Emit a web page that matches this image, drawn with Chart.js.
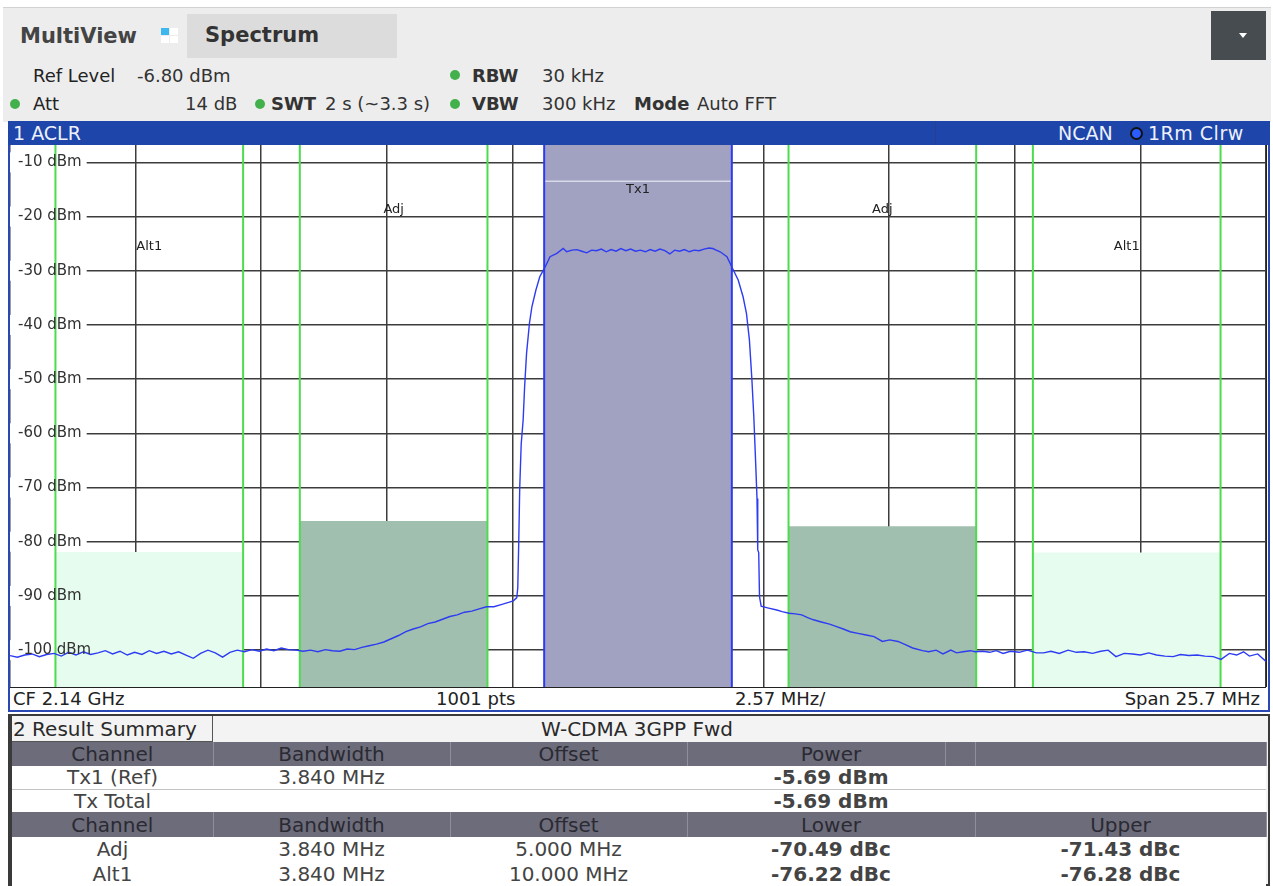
<!DOCTYPE html>
<html>
<head>
<meta charset="utf-8">
<title>ACLR</title>
<script src="https://cdn.jsdelivr.net/npm/chart.js@4.4.1/dist/chart.umd.min.js"></script>
<style>
  body { margin: 0; width: 1273px; height: 886px; overflow: hidden; position: relative; background: #fff;
         font-family: "DejaVu Sans", sans-serif; color: #333; }
  .abs { position: absolute; white-space: nowrap; }
  .t18 { font-size: 18px; line-height: 22px; }
  .b { font-weight: bold; }
  .dot { position: absolute; width: 10px; height: 10px; border-radius: 50%; background: #43b14b; }
  #top { left: 3px; top: 7px; width: 1268px; height: 114px; background: #ededed; border-top: 1px solid #d2d2d2; }
  #tab { left: 187px; top: 14px; width: 210px; height: 44px; background: #dcdcdc; }
  #btn { left: 1211px; top: 11px; width: 55px; height: 49px; background: #474c50; }
  #panel1 { left: 8px; top: 121px; width: 1262px; height: 591px; box-sizing: border-box; border: 2px solid #2a48b4; background: #fff; }
  #bar { left: 8px; top: 121px; width: 1262px; height: 24px; background: #1d45aa; color: #eef1fa; font-size: 19px; line-height: 24px; }
  #plot { position: absolute; left: 10px; top: 145px; }
  #panel2 { left: 8px; top: 714px; width: 1262px; height: 172px; box-sizing: border-box; border: 2px solid #3a3a3a; border-left-width: 4px; background: #f3f3f3; }
  table { position: absolute; left: 12px; top: 742px; width: 1254px; border-collapse: collapse; table-layout: fixed; font-size: 20px; }
  td { padding: 0; text-align: center; line-height: 20px; overflow: hidden; white-space: nowrap; }
  tr.hd td { background: #6d6c7a; color: #2a2a33; border-right: 1px solid #8f8f9c; }
  tr.rw td { background: #fff; color: #444; }
  td.v { font-weight: bold; color: #111; }
</style>
</head>
<body>
<div id="top" class="abs"></div>
<div class="abs b" style="left:20px;top:24px;font-size:21px;line-height:24px;color:#444;">MultiView</div>
<div class="abs" style="left:161px;top:28px;width:8px;height:7px;background:#3cb8ee;"></div>
<div class="abs" style="left:170px;top:28px;width:8px;height:7px;background:#fff;"></div>
<div class="abs" style="left:161px;top:36px;width:8px;height:7px;background:#fff;"></div>
<div class="abs" style="left:170px;top:36px;width:8px;height:7px;background:#fff;"></div>
<div id="tab" class="abs"></div>
<div class="abs b" style="left:205px;top:23px;font-size:21px;line-height:24px;color:#333;">Spectrum</div>
<div id="btn" class="abs"></div>
<div class="abs" style="left:1239px;top:33px;width:0;height:0;border-left:4px solid transparent;border-right:4px solid transparent;border-top:5px solid #fff;"></div>

<div class="abs t18" style="left:33px;top:65px;color:#222;">Ref Level</div>
<div class="abs t18" style="left:137px;top:65px;">-6.80 dBm</div>
<div class="dot" style="left:450px;top:70px;"></div>
<div class="abs t18 b" style="left:472px;top:65px;">RBW</div>
<div class="abs t18" style="left:542px;top:65px;">30 kHz</div>

<div class="dot" style="left:10px;top:99px;"></div>
<div class="abs t18" style="left:33px;top:93px;color:#222;">Att</div>
<div class="abs t18" style="left:185px;top:93px;">14 dB</div>
<div class="dot" style="left:255px;top:99px;"></div>
<div class="abs t18 b" style="left:271px;top:93px;">SWT</div>
<div class="abs t18" style="left:325px;top:93px;">2 s (~3.3 s)</div>
<div class="dot" style="left:450px;top:99px;"></div>
<div class="abs t18 b" style="left:472px;top:93px;">VBW</div>
<div class="abs t18" style="left:542px;top:93px;">300 kHz</div>
<div class="abs t18 b" style="left:634px;top:93px;">Mode</div>
<div class="abs t18" style="left:697px;top:93px;">Auto FFT</div>

<div id="panel1" class="abs"></div>
<div id="bar" class="abs"></div>
<div class="abs" style="left:935px;top:121px;width:1px;height:24px;background:#2a3f8c;"></div>
<div class="abs" style="left:13px;top:121px;font-size:19px;line-height:24px;color:#eef1fa;">1 ACLR</div>
<div class="abs" style="left:1058px;top:121px;font-size:19px;line-height:24px;color:#eef1fa;">NCAN</div>
<div class="abs" style="left:1130px;top:127px;width:9px;height:9px;border-radius:50%;background:#2a5cff;border:2px solid #111;"></div>
<div class="abs" style="left:1148px;top:121px;font-size:19px;line-height:24px;color:#eef1fa;letter-spacing:0.5px;">1Rm Clrw</div>

<canvas id="plot" width="1256" height="542"></canvas>
<div class="abs" style="left:10px;top:687px;width:1256px;height:1px;background:#222;"></div>
<div class="abs" style="left:1266px;top:145px;width:1px;height:542px;background:#222;"></div>
<div class="abs t18" style="left:13px;top:688px;color:#222;">CF 2.14 GHz</div>
<div class="abs t18" style="left:436px;top:688px;color:#222;">1001 pts</div>
<div class="abs t18" style="left:735px;top:688px;color:#222;">2.57 MHz/</div>
<div class="abs t18" style="right:13px;top:688px;color:#222;">Span 25.7 MHz</div>

<div id="panel2" class="abs"></div>
<div class="abs" style="left:12px;top:716px;width:200px;height:25px;border-right:1px solid #555;border-bottom:1px solid #555;"></div>
<div class="abs" style="left:13px;top:717px;font-size:20px;line-height:24px;color:#2a2a2a;">2 Result Summary</div>
<div class="abs" style="left:637px;top:717px;font-size:20px;line-height:24px;color:#2a2a2a;transform:translateX(-50%);">W-CDMA 3GPP Fwd</div>
<table>
  <colgroup><col style="width:201px"><col style="width:237px"><col style="width:237px"><col style="width:288px"><col style="width:291px"></colgroup>
  <tr class="hd" style="height:24px"><td>Channel</td><td>Bandwidth</td><td>Offset</td><td>Power</td><td></td></tr>
  <tr class="rw" style="height:23px"><td style="border-bottom:1px solid #c4c4c4">Tx1 (Ref)</td><td style="border-bottom:1px solid #c4c4c4">3.840 MHz</td><td style="border-bottom:1px solid #c4c4c4"></td><td class="v" style="border-bottom:1px solid #c4c4c4">-5.69 dBm</td><td style="border-bottom:1px solid #c4c4c4"></td></tr>
  <tr class="rw" style="height:23px"><td>Tx Total</td><td></td><td></td><td class="v">-5.69 dBm</td><td></td></tr>
  <tr class="hd" style="height:25px"><td>Channel</td><td>Bandwidth</td><td>Offset</td><td>Lower</td><td>Upper</td></tr>
  <tr class="rw" style="height:24px"><td>Adj</td><td>3.840 MHz</td><td>5.000 MHz</td><td class="v">-70.49 dBc</td><td class="v">-71.43 dBc</td></tr>
  <tr class="rw" style="height:25px"><td>Alt1</td><td>3.840 MHz</td><td>10.000 MHz</td><td class="v">-76.22 dBc</td><td class="v">-76.28 dBc</td></tr>
</table>
<div class="abs" style="left:945px;top:742px;width:1px;height:24px;background:#8f8f9c;"></div>

<script>
// ACLR trace, W-CDMA 3GPP Fwd, CF 2.14 GHz, span 25.7 MHz

const xMin = -12.85;
const xMax = 12.85;
const xTicks = [-12.85, -10.28, -7.71, -5.14, -2.57, 0, 2.57, 5.14, 7.71, 10.28, 12.85];
const refLevel = -6.8;
const bottomLevel = -106.8;
const yTicks = [-10, -20, -30, -40, -50, -60, -70, -80, -90, -100];

const channelNames = ["Alt1", "Adj", "Tx1", "Adj", "Alt1"];
const channelOffsets = [-10, -5, 0, 5, 10];
const channelBandwidth = 3.84;
const channelPower = [-81.91, -76.18, -5.69, -77.12, -81.97];
const channelLabelLevel = [-25.6, -18.8, -15.1, -18.8, -25.6];
const txLineLevel = -13.5;

const traceFreq = [
  -12.85, -12.70, -12.55, -12.40, -12.25, -12.10, -11.95, -11.80, -11.65, -11.50,
  -11.35, -11.20, -11.05, -10.90, -10.75, -10.60, -10.45, -10.30, -10.15, -10.00,
  -9.85, -9.70, -9.55, -9.40, -9.25, -9.10, -8.95, -8.80, -8.65, -8.50,
  -8.35, -8.20, -8.05, -7.90, -7.75, -7.60, -7.45, -7.30, -7.15, -7.00,
  -6.85, -6.70, -6.55, -6.40, -6.25, -6.10, -5.95, -5.80, -5.65, -5.50,
  -5.35, -5.20, -5.05, -4.90, -4.75, -4.60, -4.45, -4.30, -4.15, -4.00,
  -3.85, -3.70, -3.55, -3.40, -3.25, -3.10, -2.95, -2.80, -2.65, -2.55,
  -2.48, -2.46, -2.44, -2.42, -2.39, -2.35, -2.32, -2.28, -2.22, -2.17,
  -2.09, -2.01, -1.90, -1.80, -1.66, -1.53, -1.46, -1.35, -1.25, -1.15,
  -1.05, -0.95, -0.85, -0.75, -0.65, -0.55, -0.45, -0.35, -0.25, -0.15,
  -0.05, 0.05, 0.15, 0.25, 0.35, 0.45, 0.55, 0.65, 0.75, 0.85,
  0.95, 1.05, 1.15, 1.25, 1.35, 1.45, 1.53, 1.60, 1.68, 1.82,
  1.93, 2.05, 2.15, 2.22, 2.28, 2.33, 2.37, 2.41, 2.435, 2.45,
  2.47, 2.486, 2.52, 2.65, 2.84, 2.95, 3.09, 3.22, 3.35, 3.47,
  3.59, 3.75, 3.92, 4.05, 4.20, 4.34, 4.50, 4.67, 4.83, 5.00,
  5.15, 5.32, 5.47, 5.62, 5.82, 5.95, 6.10, 6.24, 6.40, 6.52,
  6.65, 6.80, 6.90, 7.05, 7.20, 7.33, 7.47, 7.62, 7.80, 7.97,
  8.15, 8.30, 8.45, 8.62, 8.80, 8.97, 9.13, 9.30, 9.47, 9.62,
  9.78, 9.95, 10.12, 10.28, 10.45, 10.61, 10.78, 10.95, 11.10, 11.27,
  11.44, 11.60, 11.77, 11.93, 12.10, 12.25, 12.39, 12.51, 12.68, 12.85
];
const traceLevel = [
  -101.0, -101.3, -100.9, -100.7, -101.2, -100.8, -100.6, -101.1, -100.4, -100.9,
  -100.3, -100.8, -100.5, -100.1, -100.7, -100.2, -100.9, -100.4, -100.8, -100.1,
  -100.6, -100.2, -100.7, -100.3, -100.9, -101.5, -100.6, -100.0, -100.5, -101.3,
  -100.4, -100.0, -100.3, -99.9, -100.2, -99.8, -100.1, -99.6, -99.9, -100.0,
  -100.2, -100.0, -100.3, -99.9, -100.1, -100.2, -99.8, -99.9, -99.5, -99.2,
  -98.9, -98.5, -97.9, -97.3, -96.6, -96.1, -95.7, -95.1, -94.8, -94.3,
  -93.8, -93.5, -93.0, -92.8, -92.4, -92.0, -92.0, -91.6, -91.2, -90.9,
  -90.3, -88.5, -80.0, -70.0, -62.0, -57.5, -51.4, -45.2, -39.6, -36.6,
  -33.6, -31.1, -29.3, -27.4, -26.8, -25.9, -26.5, -26.2, -26.1, -26.4,
  -26.7, -26.2, -26.3, -26.0, -26.5, -26.1, -26.4, -25.9, -26.3, -26.0,
  -26.4, -26.2, -26.5, -26.1, -26.4, -26.0, -26.3, -26.9, -26.2, -26.4,
  -26.1, -26.5, -26.2, -26.3, -26.0, -25.8, -25.9, -26.2, -26.5, -27.4,
  -29.5, -31.7, -34.8, -37.9, -42.8, -50.0, -57.0, -66.0, -72.0, -81.5,
  -82.0, -90.1, -91.9, -92.2, -92.6, -92.9, -93.2, -93.3, -93.5, -94.0,
  -94.4, -94.8, -95.2, -95.6, -96.1, -96.6, -96.9, -97.2, -97.5, -98.4,
  -98.1, -98.4, -99.0, -99.6, -100.1, -100.3, -100.0, -100.7, -100.0, -100.5,
  -100.3, -100.1, -100.3, -100.2, -100.4, -100.1, -100.6, -100.2, -100.4, -100.0,
  -100.5, -100.5, -100.2, -100.6, -100.0, -100.4, -100.3, -100.6, -100.2, -100.0,
  -101.2, -100.6, -100.7, -100.9, -100.5, -100.9, -101.1, -101.2, -100.8, -101.0,
  -100.9, -101.1, -101.2, -101.7, -100.6, -100.9, -100.3, -101.1, -100.7, -102.1
];

const fillByName = { Tx1: "#a1a1c1", Adj: "#a1bfae", Alt1: "#e6fcef" };
const edgeByName = { Tx1: "#2b3cf0", Adj: "#4cdc4c", Alt1: "#4cdc4c" };
const gridColor = "#3c3c3c";
const labelFont = { family: "DejaVu Sans", size: 15 };

const datasets = [];
channelNames.forEach((name, i) => {
  const lo = channelOffsets[i] - channelBandwidth / 2;
  const hi = channelOffsets[i] + channelBandwidth / 2;
  const top = Math.min(channelPower[i], refLevel);
  datasets.push({
    data: [{ x: lo, y: top }, { x: hi, y: top }],
    fill: "start",
    backgroundColor: fillByName[name],
    borderWidth: 0,
    pointRadius: 0,
    order: 5,
  });
  datasets.push({
    data: [
      { x: lo, y: bottomLevel }, { x: lo, y: refLevel }, { x: lo, y: null },
      { x: hi, y: refLevel }, { x: hi, y: bottomLevel },
    ],
    borderColor: edgeByName[name],
    borderWidth: 2,
    pointRadius: 0,
    fill: false,
    spanGaps: false,
    order: 3,
  });
  if (name === "Tx1") {
    datasets.push({
      data: [{ x: lo, y: txLineLevel }, { x: hi, y: txLineLevel }],
      borderColor: "rgba(236,236,246,0.75)",
      borderWidth: 1.5,
      pointRadius: 0,
      fill: false,
      order: 4,
    });
  }
});
datasets.push({
  data: traceFreq.map((f, i) => ({ x: f, y: traceLevel[i] })),
  borderColor: "#2d3cf2",
  borderWidth: 1.4,
  pointRadius: 0,
  tension: 0,
  fill: false,
  order: 1,
});

const channelLabels = {
  id: "channelLabels",
  afterDatasetsDraw(chart) {
    const { ctx, scales } = chart;
    ctx.save();
    ctx.font = '13px "DejaVu Sans"';
    ctx.fillStyle = "#222";
    ctx.textAlign = "center";
    ctx.textBaseline = "middle";
    channelNames.forEach((name, i) => {
      ctx.fillText(name, scales.x.getPixelForValue(channelOffsets[i]), scales.y.getPixelForValue(channelLabelLevel[i]));
    });
    ctx.restore();
  },
};

const flatY = (s) => { s.width = 0; s.paddingTop = 0; s.paddingBottom = 0; };
const setYTicks = (s) => { s.ticks = yTicks.map((v) => ({ value: v })); };

new Chart(document.getElementById("plot"), {
  type: "line",
  data: { datasets },
  plugins: [channelLabels],
  options: {
    responsive: false,
    animation: false,
    events: [],
    layout: { padding: 0 },
    plugins: { legend: { display: false }, tooltip: { enabled: false } },
    scales: {
      x: {
        type: "linear",
        min: xMin,
        max: xMax,
        afterBuildTicks: (s) => { s.ticks = xTicks.map((v) => ({ value: v })); },
        afterFit: (s) => { s.height = 0; s.paddingLeft = 0; s.paddingRight = 0; },
        grid: { color: gridColor, lineWidth: 1.5, drawTicks: false },
        border: { display: false },
        ticks: { display: false },
      },
      y: {
        min: bottomLevel,
        max: refLevel,
        afterBuildTicks: setYTicks,
        afterFit: flatY,
        grid: { color: gridColor, lineWidth: 1.5, drawTicks: false },
        border: { display: false },
        ticks: {
          mirror: true,
          padding: 8,
          color: "rgba(0,0,0,0)",
          font: labelFont,
          showLabelBackdrop: true,
          backdropColor: "#fff",
          backdropPadding: { left: 8, right: 5, top: 1, bottom: 1 },
          callback: (v) => v + " dBm",
        },
      },
      yLabels: {
        position: "left",
        min: bottomLevel,
        max: refLevel,
        afterBuildTicks: setYTicks,
        afterFit: flatY,
        grid: { display: false, drawTicks: false },
        border: { display: false },
        ticks: {
          mirror: true,
          padding: 8,
          color: "#333",
          font: labelFont,
          z: 1,
          callback: (v) => v + " dBm",
        },
      },
    },
  },
});
</script>
</body>
</html>
